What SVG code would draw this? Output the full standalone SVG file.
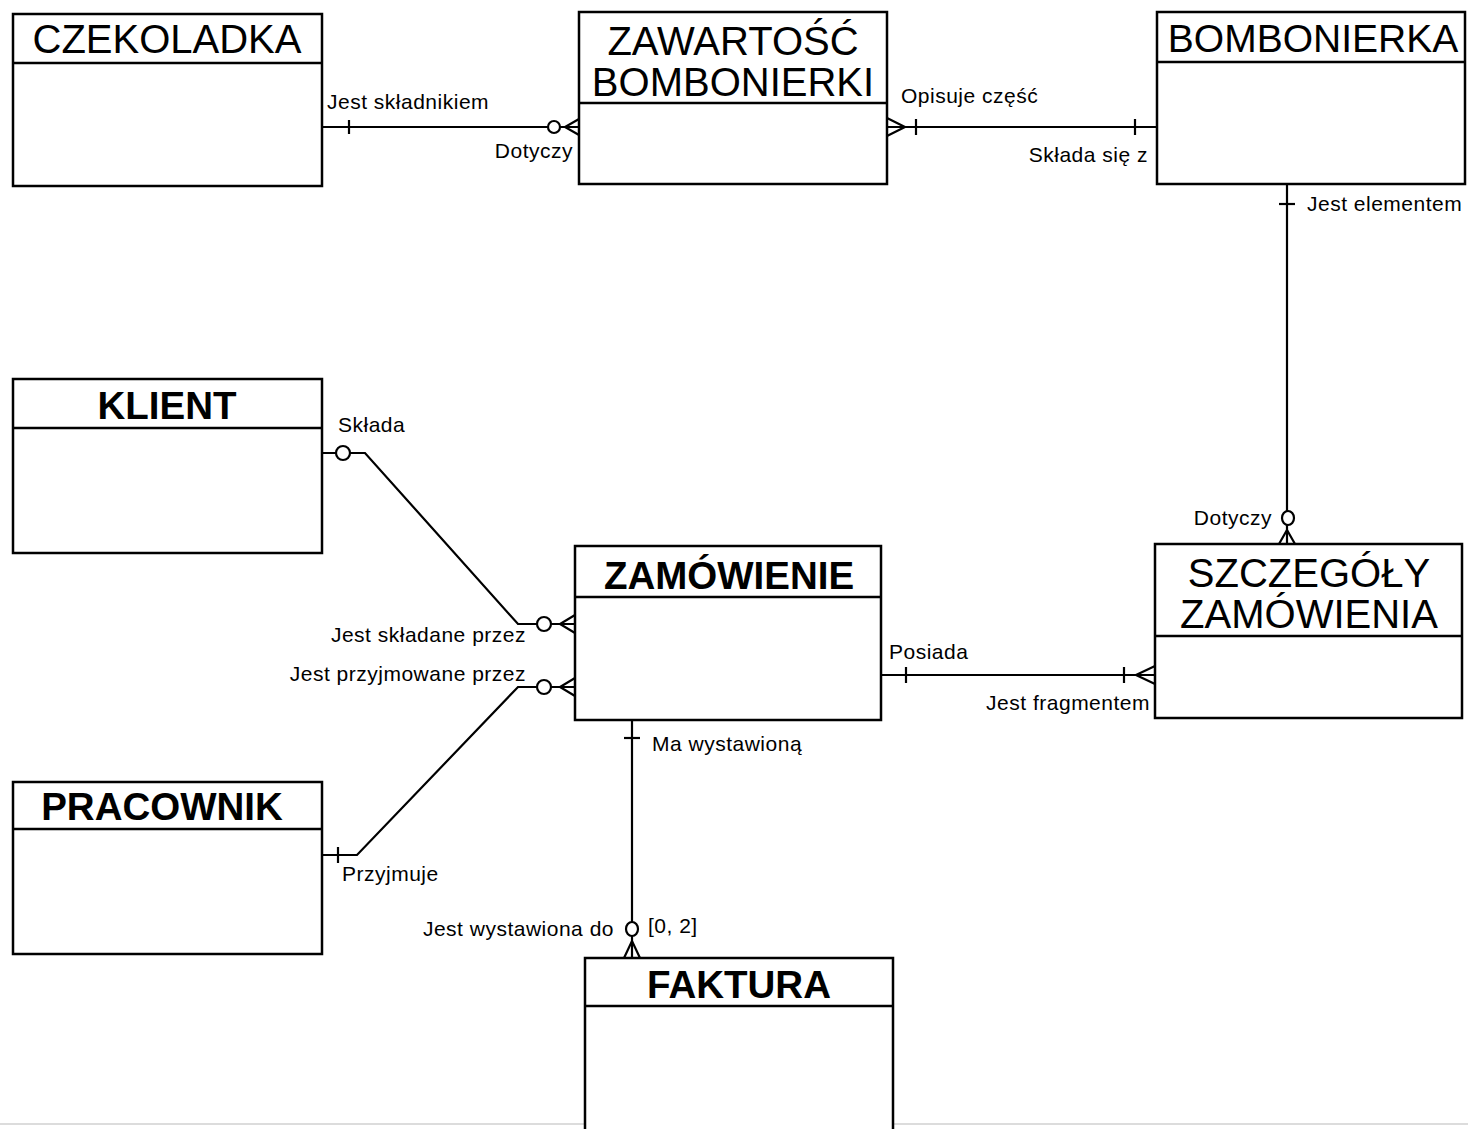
<svg xmlns="http://www.w3.org/2000/svg" width="1468" height="1129" viewBox="0 0 1468 1129">
  <style>
    .box { fill: #fff; stroke: #000; stroke-width: 2.5; }
    .sep { stroke: #000; stroke-width: 2.5; }
    .title { font-family: "Liberation Sans", Arial, sans-serif; font-size: 40px; fill: #000; text-anchor: middle; }
    .bold { font-weight: bold; font-size: 38.5px; }
    .lbl { font-family: "Liberation Sans", Arial, sans-serif; font-size: 21px; letter-spacing: 0.5px; fill: #000; }
    .end { text-anchor: end; }
    .ln { fill: none; stroke: #000; stroke-width: 2.2; }
    .ring { fill: #fff; stroke: #000; stroke-width: 2.2; }
  </style>

  <rect width="1468" height="1129" fill="#fff"/>
  <line x1="0" y1="1124" x2="1468" y2="1124" stroke="#dcdcdc" stroke-width="2"/>

  <!-- Connectors -->
  <g id="connectors">
    <!-- CZEKOLADKA - ZAWARTOŚĆ BOMBONIERKI -->
    <line class="ln" x1="322" y1="127" x2="579" y2="127"/>
    <line class="ln" x1="349" y1="120" x2="349" y2="134"/>
    <circle class="ring" cx="554" cy="127" r="6"/>
    <polyline class="ln" points="579,119 565,127 579,135"/>
    <text class="lbl" x="327" y="109">Jest składnikiem</text>
    <text class="lbl end" x="573" y="158">Dotyczy</text>

    <!-- ZAWARTOŚĆ BOMBONIERKI - BOMBONIERKA -->
    <line class="ln" x1="887" y1="127" x2="1157" y2="127"/>
    <polyline class="ln" points="887,118 905,127 887,136"/>
    <line class="ln" x1="916" y1="119" x2="916" y2="135"/>
    <line class="ln" x1="1135" y1="119" x2="1135" y2="135"/>
    <text class="lbl" x="901" y="103">Opisuje część</text>
    <text class="lbl end" x="1148" y="162">Składa się z</text>

    <!-- BOMBONIERKA - SZCZEGÓŁY ZAMÓWIENIA -->
    <line class="ln" x1="1287" y1="184" x2="1287" y2="544"/>
    <line class="ln" x1="1279" y1="204" x2="1295" y2="204"/>
    <ellipse class="ring" cx="1288" cy="518" rx="6" ry="7"/>
    <polyline class="ln" points="1279,544 1287,530 1295,544"/>
    <text class="lbl" x="1307" y="211">Jest elementem</text>
    <text class="lbl end" x="1272" y="525">Dotyczy</text>

    <!-- KLIENT - ZAMÓWIENIE -->
    <polyline class="ln" points="322,453 365,453 518,624 575,624"/>
    <circle class="ring" cx="343" cy="453" r="7"/>
    <circle class="ring" cx="544" cy="624" r="7"/>
    <polyline class="ln" points="575,615 560,624 575,633"/>
    <text class="lbl" x="338" y="432">Składa</text>
    <text class="lbl end" x="526" y="642">Jest składane przez</text>

    <!-- PRACOWNIK - ZAMÓWIENIE -->
    <polyline class="ln" points="322,855 357,855 518,687 575,687"/>
    <line class="ln" x1="338" y1="847" x2="338" y2="863"/>
    <circle class="ring" cx="544" cy="687" r="7"/>
    <polyline class="ln" points="575,678 560,687 575,696"/>
    <text class="lbl" x="342" y="881">Przyjmuje</text>
    <text class="lbl end" x="526" y="681">Jest przyjmowane przez</text>

    <!-- ZAMÓWIENIE - SZCZEGÓŁY ZAMÓWIENIA -->
    <line class="ln" x1="881" y1="675" x2="1155" y2="675"/>
    <line class="ln" x1="906" y1="667" x2="906" y2="683"/>
    <line class="ln" x1="1124" y1="667" x2="1124" y2="683"/>
    <polyline class="ln" points="1155,666 1136,675 1155,684"/>
    <text class="lbl" x="889" y="659">Posiada</text>
    <text class="lbl end" x="1150" y="710">Jest fragmentem</text>

    <!-- ZAMÓWIENIE - FAKTURA -->
    <line class="ln" x1="632" y1="720" x2="632" y2="958"/>
    <line class="ln" x1="624" y1="738" x2="640" y2="738"/>
    <ellipse class="ring" cx="632" cy="929" rx="6" ry="7"/>
    <polyline class="ln" points="624,958 632,941 640,958"/>
    <text class="lbl" x="652" y="751">Ma wystawioną</text>
    <text class="lbl end" x="614" y="936">Jest wystawiona do</text>
    <text class="lbl" x="648" y="933">[0, 2]</text>
  </g>

  <!-- Entities -->
  <g id="czekoladka">
    <rect class="box" x="13" y="14" width="309" height="172"/>
    <line class="sep" x1="13" y1="63" x2="322" y2="63"/>
    <text class="title" x="167" y="53">CZEKOLADKA</text>
  </g>

  <g id="zawartosc-bombonierki">
    <rect class="box" x="579" y="12" width="308" height="172"/>
    <line class="sep" x1="579" y1="103" x2="887" y2="103"/>
    <text class="title" x="733" y="55">ZAWARTOŚĆ</text>
    <text class="title" x="733" y="96">BOMBONIERKI</text>
  </g>

  <g id="bombonierka">
    <rect class="box" x="1157" y="12" width="308" height="172"/>
    <line class="sep" x1="1157" y1="62" x2="1465" y2="62"/>
    <text class="title" x="1313" y="52" style="font-size:39px">BOMBONIERKA</text>
  </g>

  <g id="klient">
    <rect class="box" x="13" y="379" width="309" height="174"/>
    <line class="sep" x1="13" y1="428" x2="322" y2="428"/>
    <text class="title bold" x="167" y="419">KLIENT</text>
  </g>

  <g id="zamowienie">
    <rect class="box" x="575" y="546" width="306" height="174"/>
    <line class="sep" x1="575" y1="597" x2="881" y2="597"/>
    <text class="title bold" x="729" y="589">ZAMÓWIENIE</text>
  </g>

  <g id="szczegoly-zamowienia">
    <rect class="box" x="1155" y="544" width="307" height="174"/>
    <line class="sep" x1="1155" y1="636" x2="1462" y2="636"/>
    <text class="title" x="1309" y="587">SZCZEGÓŁY</text>
    <text class="title" x="1309" y="628">ZAMÓWIENIA</text>
  </g>

  <g id="pracownik">
    <rect class="box" x="13" y="782" width="309" height="172"/>
    <line class="sep" x1="13" y1="829" x2="322" y2="829"/>
    <text class="title bold" x="162" y="820">PRACOWNIK</text>
  </g>

  <g id="faktura">
    <path class="box" d="M585,1131 V958 H893 V1131"/>
    <line class="sep" x1="585" y1="1006" x2="893" y2="1006"/>
    <text class="title bold" x="739" y="998">FAKTURA</text>
  </g>
</svg>
